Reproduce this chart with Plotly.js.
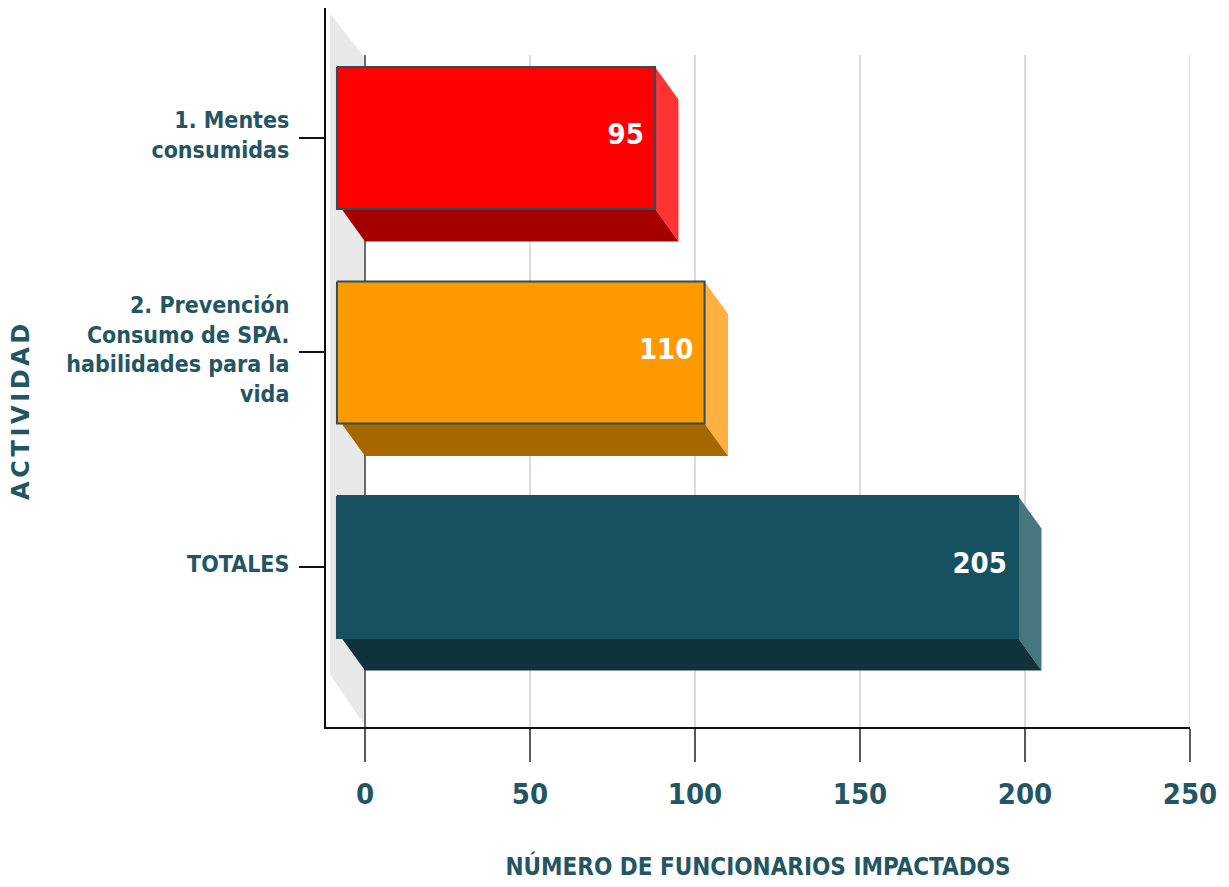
<!DOCTYPE html>
<html>
<head>
<meta charset="utf-8">
<script src="https://cdn.plot.ly/plotly-3.0.1.min.js"></script>
<style>html,body{margin:0;padding:0;background:#fff}#chart{width:1229px;height:887px}.annotation-text{letter-spacing:3.6px}</style>
</head>
<body>
<div id="chart"></div>
<script>
const categories = ['1. Mentes<br>consumidas', '2. Prevención<br>Consumo de SPA.<br>habilidades para la<br>vida', 'TOTALES'];
const values = [95, 110, 205];
const faceColors = ['#ff0000', '#ff9900', '#17505f'];
const sideColors = ['#ff3333', '#ffb040', '#47767f'];
const floorColors = ['#a50000', '#a86600', '#10323a'];
const faceEdges = ['#2a5060', '#2a5060', '#17505f'];
const xTicks = [0, 50, 100, 150, 200, 250];
const yTitle = 'ACTIVIDAD';
const xTitle = 'NÚMERO DE FUNCIONARIOS IMPACTADOS';

const depthX = 7.1, depthY = 0.152, halfBar = 0.331, faceLeft = -8.5;
const font = 'DejaVu Sans Condensed, DejaVu Sans, sans-serif';
const ink = '#235562';
const yPos = categories.map((_, i) => i);
const traces = [];
const poly = (x, y, color, edge) => traces.push({
  type: 'scatter', mode: 'lines', x: x.concat(x[0]), y: y.concat(y[0]), fill: 'toself', fillcolor: color,
  line: {color: edge || color, width: edge ? 2 : 0}, hoverinfo: 'skip', showlegend: false
});

// back wall
poly([-10.6, 0, 0, -10.6], [-0.58, -0.373, 2.74, 2.5], '#e8e8e8');
// gridlines
xTicks.forEach(t => traces.push({
  type: 'scatter', mode: 'lines', x: [t, t], y: [-0.387, 2.746],
  line: {color: t === 0 ? '#6a6a6a' : '#dcdcdc', width: 2}, hoverinfo: 'skip', showlegend: false
}));
// bars
values.forEach((v, i) => {
  const c = yPos[i], t = c - halfBar, b = c + halfBar, f = v - depthX;
  poly([f, v, v, f], [t, t + depthY, b + depthY, b], sideColors[i]);
  poly([-depthX, 0, v, f], [b, b + depthY, b + depthY, b], floorColors[i]);
  poly([faceLeft, f, f, faceLeft], [t, t, b, b], faceColors[i], faceEdges[i]);
});
// value labels
traces.push({
  type: 'scatter', mode: 'text', x: values.map(v => v - depthX - 3.4), y: yPos.map(y => y - 0.004),
  text: values.map(String), textposition: 'middle left',
  textfont: {family: font, size: 29, color: '#ffffff', weight: 700}, hoverinfo: 'skip', showlegend: false
});

const layout = {
  width: 1229, height: 887, paper_bgcolor: '#fff', plot_bgcolor: '#fff', showlegend: false,
  margin: {l: 326, r: 39, t: 8, b: 160, pad: 0},
  xaxis: {
    range: [-11.82, 250], tickvals: xTicks, ticktext: xTicks.map(String), showgrid: false, zeroline: false,
    ticks: 'outside', ticklen: 33, tickwidth: 2, tickcolor: '#5a5a5a', showline: true, linecolor: '#111', linewidth: 2,
    ticklabelstandoff: 7,
    tickfont: {family: font, size: 29, color: ink, weight: 700},
    title: {text: xTitle, font: {family: font, size: 24, color: ink, weight: 700}, standoff: 48}
  },
  yaxis: {
    range: [2.746, -0.606], tickvals: yPos, ticktext: categories, showgrid: false, zeroline: false,
    ticks: 'outside', ticklen: 25, tickwidth: 2, tickcolor: '#111', showline: true, linecolor: '#111', linewidth: 2,
    ticklabelstandoff: 5, ticklabelshift: 3,
    tickfont: {family: font, size: 23, color: ink, weight: 700}
  },
  annotations: [{
    text: yTitle, xref: 'paper', yref: 'paper', x: -0.353, y: 0.441, yanchor: 'middle', xanchor: 'center', showarrow: false,
    textangle: -90, font: {family: 'DejaVu Sans, sans-serif', size: 24, color: ink, weight: 700}
  }]
};
Plotly.newPlot('chart', traces, layout, {displayModeBar: false, staticPlot: true});
</script>
</body>
</html>
